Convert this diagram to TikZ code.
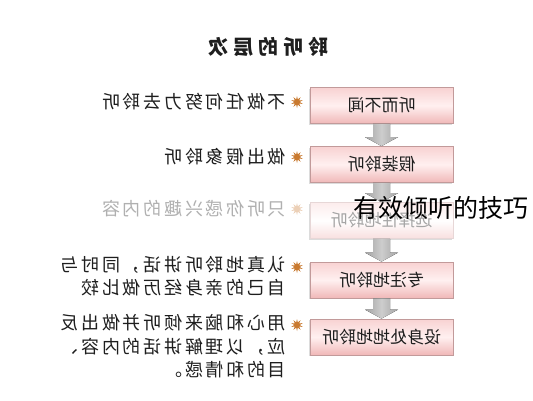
\documentclass[tikz,border=0pt]{standalone}
\usepackage{fontspec}
\usepackage{graphicx}
\newfontfamily\cjk{Noto Sans CJK SC}
\newfontfamily\cjksp[LetterSpace=15]{Noto Sans CJK SC}
\newfontfamily\cjktitle[LetterSpace=25]{Noto Sans CJK SC}
\usetikzlibrary{shapes.geometric,calc,shadows}
\definecolor{boxline}{HTML}{C29A9A}
\definecolor{boxtop}{HTML}{F8D2D2}
\definecolor{boxmid}{HTML}{FFF0F0}
\definecolor{boxbot}{HTML}{F0B8B8}
\definecolor{arrowgray}{HTML}{A4A4A4}
\definecolor{starcol}{HTML}{C97A30}
\definecolor{txt}{HTML}{1E1E1E}
\tikzset{
  levelbox/.style={draw=boxline, line width=0.8pt, minimum width=143pt, minimum height=36pt,
    inner sep=0pt, top color=boxtop, bottom color=boxbot, middle color=boxmid,
    font=\cjk\fontsize{17}{17}\selectfont, text=txt,
    drop shadow={shadow xshift=-1.2pt, shadow yshift=-1.2pt, fill=gray!45, opacity=0.6}},
  fadedbox/.style={levelbox, draw=boxline!40, top color=boxtop!40, bottom color=boxbot!45,
    middle color=white, text=txt!40},
  desc/.style={anchor=east, inner sep=0pt, text=txt, font=\cjksp\fontsize{18}{23.5}\selectfont},
  fadeddesc/.style={desc, text=txt!35},
  bullet/.style={star, star points=10, star point ratio=2.2, minimum size=12pt, inner sep=0pt, fill=starcol},
  fadedbullet/.style={bullet, fill=starcol!35},
  levelarrow/.style={shading=axis, left color=arrowgray, right color=arrowgray, middle color=arrowgray!55, shading angle=90},
  titletext/.style={font=\cjktitle\bfseries\fontsize{20}{20}\selectfont, text=txt},
  overlaytext/.style={font=\cjk\fontsize{25}{25}\selectfont, text=black}
}
\begin{document}
\begin{tikzpicture}[x=1pt,y=-1pt]
\useasboundingbox[fill=white] (0,0) rectangle (533,400);

\node[titletext] (title) at (268,47) {\reflectbox{聆听的层次}};

\node[levelbox] (b1) at (381.5,105.5) {\reflectbox{听而不闻}};
\node[levelbox] (b2) at (381.5,164.5) {\reflectbox{假装聆听}};
\node[fadedbox] (b3) at (381.5,220.5) {\reflectbox{选择性地聆听}};
\node[levelbox] (b4) at (381.5,280) {\reflectbox{专注地聆听}};
\node[levelbox] (b5) at (381.5,337) {\reflectbox{设身处地地聆听}};

\foreach \a/\b in {b1/b2,b2/b3,b3/b4,b4/b5}{
  \fill[levelarrow] ($(\a.south)+(-8.5,0)$) -- ($(\b.north)+(-8.5,-9)$) -- ($(\b.north)+(-16.5,-9)$)
    -- (\b.north) -- ($(\b.north)+(16.5,-9)$) -- ($(\b.north)+(8.5,-9)$) -- ($(\a.south)+(8.5,0)$) -- cycle;
}

\node[bullet] (s1) at (297,102) {};
\node[bullet] (s2) at (297,157) {};
\node[fadedbullet] (s3) at (297,209) {};
\node[bullet] (s4) at (297,267) {};
\node[bullet] (s5) at (297,325) {};

\node[desc] (d1) at (286,102) {\reflectbox{不做任何努力去聆听}};
\node[desc] (d2) at (286,157) {\reflectbox{做出假象聆听}};
\node[fadeddesc] (d3) at (286,209) {\reflectbox{只听你感兴趣的内容}};
\node[desc] (d4) at (286,278.5) {\reflectbox{\begin{tabular}{@{}l@{}}认真地聆听讲话，同时与\\自己的亲身经历做比较\end{tabular}}};
\node[desc] (d5) at (286,348.5) {\reflectbox{\begin{tabular}{@{}l@{}}用心和脑来倾听并做出反\\应，以理解讲话的内容、\\目的和情感。\end{tabular}}};

\node[overlaytext] (ov) at (441,208) {有效倾听的技巧};
\end{tikzpicture}
\end{document}
